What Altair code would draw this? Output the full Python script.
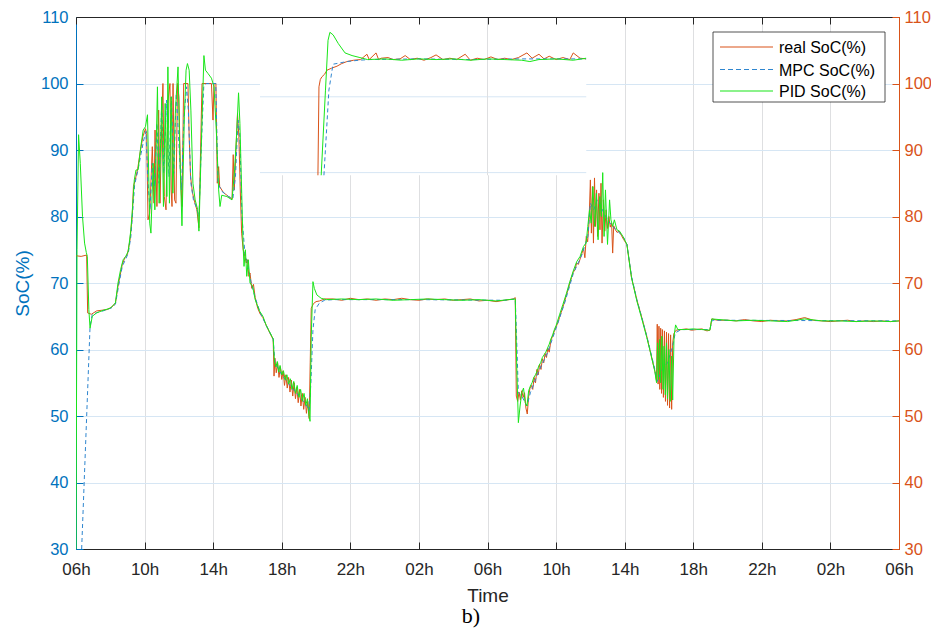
import altair as alt
import pandas as pd

# ---------------- data (hours since 06h of day 1, SoC %) ----------------
real_points = [
    (0.0, 74.1), (0.3, 74.0), (0.62, 74.2), (0.68, 65.5), (0.9, 65.3), (1.2, 65.8), (1.5, 65.9),
    (1.8, 66.0), (2.1, 66.4), (2.3, 67.0), (2.45, 69.5), (2.6, 71.5), (2.7, 72.8), (2.85, 73.8),
    (3.0, 74.3), (3.15, 76.5), (3.28, 80.0), (3.35, 84.5), (3.5, 86.0), (3.6, 87.2), (3.75, 89.8),
    (3.9, 92.0), (4.05, 93.2), (4.12, 92.5), (4.2, 79.5), (4.3, 80.5), (4.45, 90.5), (4.55, 82.0),
    (4.61, 93.0), (4.72, 81.5), (4.82, 96.0), (4.9, 82.0), (5.0, 94.0), (5.07, 100.0), (5.15, 83.0),
    (5.25, 81.0), (5.35, 97.0), (5.48, 100.0), (5.55, 84.0), (5.6, 81.5), (5.66, 100.0), (5.75, 82.5),
    (5.83, 82.0), (5.92, 100.0), (6.0, 98.0), (6.1, 86.0), (6.18, 81.5), (6.28, 100.0), (6.53, 100.0),
    (6.6, 92.0), (6.68, 86.0), (6.8, 83.5), (6.94, 82.0), (7.05, 81.0), (7.17, 78.3), (7.25, 88.0),
    (7.35, 100.0), (7.9, 100.0), (7.99, 94.5), (8.05, 100.0), (8.16, 100.0), (8.24, 85.0), (8.32, 87.5),
    (8.38, 84.5), (8.6, 83.6), (8.9, 83.0), (9.1, 82.6), (9.17, 89.3), (9.23, 84.0), (9.33, 90.0),
    (9.42, 95.5), (9.5, 92.0), (9.58, 84.0), (9.66, 77.5), (9.75, 75.0), (9.85, 74.0), (9.93, 73.0),
    (10.0, 73.5), (10.08, 71.0), (10.15, 71.5), (10.25, 69.2), (10.35, 69.8), (10.45, 67.8),
    (10.6, 66.2), (10.75, 65.3), (10.9, 64.8), (11.1, 63.6), (11.3, 62.5), (11.5, 61.5), (11.55, 56.0),
    (11.6, 58.7), (11.68, 56.5), (11.76, 58.0), (11.84, 55.8), (11.92, 57.4), (12.0, 55.5),
    (12.08, 56.8), (12.16, 54.6), (12.24, 56.2), (12.32, 54.2), (12.4, 55.8), (12.48, 53.6),
    (12.56, 55.4), (12.64, 53.0), (12.72, 55.0), (12.8, 52.6), (12.88, 54.3), (12.96, 52.0),
    (13.04, 54.0), (13.12, 51.5), (13.2, 53.4), (13.28, 51.0), (13.36, 52.8), (13.44, 50.4),
    (13.52, 52.2), (13.6, 49.6), (13.66, 58.0), (13.72, 66.2), (13.85, 66.9), (14.0, 67.2),
    (14.2, 67.3), (14.5, 67.6), (15.0, 67.6), (15.5, 67.4), (16.0, 67.7), (16.5, 67.5), (17.0, 67.6),
    (17.5, 67.4), (18.0, 67.6), (18.5, 67.5), (19.0, 67.7), (19.5, 67.5), (20.0, 67.4), (20.5, 67.6),
    (21.0, 67.5), (21.5, 67.6), (22.0, 67.4), (22.5, 67.5), (23.0, 67.6), (23.5, 67.3), (24.0, 67.4),
    (24.5, 67.2), (25.0, 67.4), (25.5, 67.6), (25.62, 67.8), (25.68, 53.0), (25.76, 52.2),
    (25.84, 53.6), (25.92, 52.4), (26.0, 53.8), (26.08, 52.8), (26.16, 53.5), (26.24, 51.2),
    (26.32, 50.3), (26.4, 53.0), (26.48, 54.2), (26.56, 54.6), (26.64, 54.0), (26.72, 55.8),
    (26.8, 55.0), (26.88, 57.0), (26.96, 56.2), (27.04, 57.8), (27.12, 57.0), (27.2, 58.6),
    (27.28, 58.0), (27.36, 59.4), (27.44, 58.8), (27.52, 60.2), (27.6, 59.6), (27.7, 61.4),
    (27.8, 62.0), (27.9, 62.8), (28.0, 63.4), (28.1, 64.0), (28.2, 64.8), (28.3, 65.6), (28.4, 66.4),
    (28.5, 67.2), (28.6, 68.2), (28.7, 69.0), (28.8, 70.0), (28.9, 70.8), (29.0, 71.6), (29.1, 72.0),
    (29.2, 73.0), (29.3, 72.8), (29.4, 73.6), (29.5, 74.4), (29.6, 75.2), (29.68, 73.8), (29.76, 77.0),
    (29.84, 76.2), (29.92, 79.0), (30.0, 85.5), (30.06, 77.5), (30.12, 84.5), (30.18, 76.0),
    (30.24, 85.8), (30.3, 78.5), (30.36, 84.0), (30.42, 77.0), (30.5, 83.5), (30.56, 78.0),
    (30.62, 85.0), (30.68, 76.0), (30.76, 82.5), (30.84, 77.8), (30.92, 81.0), (31.0, 78.2),
    (31.08, 80.0), (31.16, 78.4), (31.24, 79.0), (31.3, 74.5), (31.36, 78.6), (31.46, 78.0),
    (31.56, 77.6), (31.68, 77.8), (31.8, 77.2), (31.95, 76.5), (32.13, 75.8), (32.4, 70.8),
    (32.71, 67.5), (33.0, 64.8), (33.29, 62.0), (33.5, 59.6), (33.76, 56.8), (33.86, 55.2),
    (33.9, 63.8), (33.95, 54.8), (34.0, 63.5), (34.05, 54.0), (34.1, 63.2), (34.15, 53.4),
    (34.2, 63.0), (34.26, 52.8), (34.32, 62.8), (34.38, 52.2), (34.44, 62.6), (34.5, 51.6),
    (34.56, 62.4), (34.62, 51.2), (34.68, 62.2), (34.74, 51.0), (34.8, 61.0), (34.87, 62.4),
    (35.0, 62.9), (35.3, 63.0), (35.6, 63.1), (35.9, 62.9), (36.2, 63.0), (36.5, 63.1), (36.8, 62.8),
    (36.97, 62.9), (37.08, 64.6), (37.4, 64.4), (38.0, 64.4), (38.5, 64.3), (39.0, 64.5), (39.5, 64.3),
    (40.0, 64.2), (40.5, 64.4), (41.0, 64.3), (41.5, 64.3), (42.0, 64.5), (42.5, 64.8), (43.0, 64.4),
    (43.5, 64.3), (44.0, 64.2), (44.5, 64.3), (45.0, 64.4), (45.5, 64.2), (46.0, 64.3), (46.5, 64.2),
    (47.0, 64.3), (47.5, 64.2), (48.0, 64.3),
]

mpc_points = [
    (0.33, 30.0), (0.82, 63.5), (0.95, 65.3), (1.3, 65.6), (1.7, 65.9), (2.1, 66.3), (2.3, 66.8),
    (2.5, 69.8), (2.7, 72.5), (2.9, 73.6), (3.05, 74.5), (3.2, 77.0), (3.33, 81.5), (3.42, 84.8),
    (3.6, 86.8), (3.8, 89.5), (3.95, 91.5), (4.08, 92.8), (4.2, 85.0), (4.32, 81.0), (4.45, 88.0),
    (4.58, 84.5), (4.72, 94.0), (4.85, 85.0), (5.0, 97.0), (5.12, 86.5), (5.28, 97.5), (5.42, 86.0),
    (5.56, 98.0), (5.7, 86.5), (5.85, 98.5), (6.0, 91.0), (6.15, 84.0), (6.3, 95.0), (6.45, 99.5),
    (6.55, 96.0), (6.7, 85.0), (6.85, 82.5), (7.0, 81.5), (7.17, 80.0), (7.3, 90.0), (7.45, 99.5),
    (7.6, 100.0), (8.15, 100.0), (8.28, 85.0), (8.5, 83.8), (8.9, 83.0), (9.15, 82.7), (9.3, 86.0),
    (9.45, 94.5), (9.55, 92.5), (9.68, 80.0), (9.85, 74.5), (10.0, 73.0), (10.2, 70.2), (10.45, 67.8),
    (10.75, 65.5), (11.1, 63.6), (11.5, 61.6), (11.6, 58.0), (12.0, 56.2), (12.5, 54.5), (13.0, 53.0),
    (13.4, 51.8), (13.6, 50.8), (13.7, 55.0), (13.82, 63.0), (13.95, 66.0), (14.2, 67.0), (14.5, 67.4),
    (15.0, 67.5), (20.0, 67.5), (25.0, 67.4), (25.62, 67.6), (25.72, 60.0), (25.8, 53.5), (26.0, 53.0),
    (26.3, 51.5), (26.5, 53.5), (27.0, 56.8), (27.5, 59.5), (28.0, 63.2), (28.5, 67.0), (29.0, 71.4),
    (29.5, 74.2), (29.85, 77.0), (30.0, 82.0), (30.2, 81.0), (30.4, 82.5), (30.6, 81.5), (30.8, 80.5),
    (31.0, 79.5), (31.3, 78.5), (31.6, 77.8), (31.95, 76.8), (32.13, 75.8), (32.4, 71.0), (32.71, 67.5),
    (33.0, 64.8), (33.29, 62.0), (33.5, 59.8), (33.76, 57.0), (33.9, 55.2), (34.2, 57.0), (34.5, 58.0),
    (34.8, 60.5), (34.95, 62.5), (35.3, 63.0), (36.97, 63.0), (37.1, 64.4), (37.5, 64.4), (48.0, 64.3),
]

pid_points = [
    (0.0, 30.0), (0.06, 75.0), (0.15, 92.3), (0.25, 88.0), (0.38, 80.0), (0.5, 76.0), (0.6, 74.6),
    (0.66, 74.0), (0.75, 66.0), (0.82, 63.2), (0.95, 65.0), (1.2, 65.5), (1.6, 65.9), (2.0, 66.2),
    (2.3, 67.0), (2.45, 70.0), (2.6, 72.0), (2.75, 73.5), (2.9, 74.0), (3.05, 74.8), (3.2, 78.0),
    (3.3, 81.5), (3.4, 85.5), (3.5, 87.0), (3.62, 87.0), (3.78, 90.5), (3.92, 93.0), (4.05, 93.5),
    (4.17, 95.3), (4.3, 79.0), (4.37, 77.5), (4.5, 88.0), (4.6, 81.0), (4.75, 99.5), (4.85, 82.0),
    (5.0, 98.0), (5.1, 81.5), (5.2, 97.0), (5.3, 83.0), (5.36, 102.5), (5.45, 82.0), (5.55, 98.0),
    (5.65, 83.5), (5.8, 96.0), (5.95, 102.5), (6.05, 90.0), (6.18, 78.6), (6.32, 95.0), (6.42, 102.0),
    (6.5, 103.0), (6.6, 102.0), (6.7, 96.0), (6.82, 85.0), (6.95, 82.5), (7.1, 81.0), (7.17, 77.8),
    (7.3, 90.0), (7.46, 104.2), (7.55, 102.0), (7.7, 101.5), (7.9, 100.8), (8.05, 99.5), (8.2, 92.0),
    (8.32, 84.0), (8.4, 81.5), (8.5, 83.2), (8.8, 83.0), (9.1, 82.5), (9.25, 87.0), (9.38, 93.0),
    (9.48, 98.6), (9.56, 94.0), (9.66, 84.0), (9.74, 76.0), (9.8, 72.5), (9.88, 75.0), (9.96, 71.0),
    (10.05, 73.5), (10.15, 70.0), (10.3, 69.5), (10.45, 67.5), (10.7, 65.8), (10.9, 65.0),
    (11.1, 63.6), (11.3, 62.6), (11.5, 61.6), (11.58, 58.0), (11.66, 57.4), (11.74, 58.2),
    (11.82, 56.6), (11.9, 57.6), (12.0, 56.2), (12.1, 56.8), (12.2, 55.4), (12.3, 56.2), (12.4, 54.8),
    (12.5, 55.6), (12.6, 54.0), (12.7, 55.2), (12.8, 53.4), (12.9, 54.6), (13.0, 52.8), (13.1, 54.0),
    (13.2, 52.2), (13.3, 53.4), (13.4, 51.6), (13.5, 52.6), (13.58, 50.2), (13.65, 49.2), (13.72, 62.0),
    (13.82, 70.2), (13.9, 69.2), (14.05, 68.2), (14.3, 67.7), (14.6, 67.5), (15.5, 67.6), (16.5, 67.5),
    (17.5, 67.6), (18.5, 67.4), (19.5, 67.5), (20.5, 67.6), (21.5, 67.5), (22.5, 67.4), (23.5, 67.5),
    (24.5, 67.3), (25.62, 67.6), (25.7, 58.0), (25.8, 49.0), (25.9, 51.5), (26.0, 53.5), (26.1, 54.2),
    (26.2, 52.0), (26.3, 51.5), (26.4, 53.8), (26.5, 54.5), (26.6, 55.0), (26.7, 55.8), (26.8, 56.2),
    (26.9, 56.8), (27.0, 57.6), (27.1, 58.0), (27.2, 58.8), (27.3, 59.2), (27.4, 59.6), (27.5, 60.2),
    (27.6, 60.8), (27.7, 61.6), (27.8, 62.2), (27.9, 63.0), (28.0, 63.6), (28.2, 65.2), (28.4, 66.8),
    (28.6, 68.4), (28.8, 70.2), (29.0, 71.8), (29.2, 73.2), (29.4, 74.0), (29.6, 75.5), (29.75, 76.0),
    (29.85, 78.5), (29.95, 81.0), (30.05, 79.0), (30.15, 84.5), (30.25, 78.5), (30.35, 83.5),
    (30.45, 76.5), (30.55, 83.0), (30.64, 80.0), (30.72, 86.6), (30.8, 77.0), (30.88, 84.0),
    (31.0, 75.8), (31.12, 82.5), (31.2, 79.5), (31.3, 78.5), (31.4, 79.5), (31.55, 78.0), (31.7, 77.8),
    (31.9, 77.0), (32.13, 75.8), (32.4, 70.8), (32.71, 67.3), (33.0, 64.6), (33.29, 61.8), (33.5, 59.6),
    (33.76, 56.7), (33.86, 55.0), (33.92, 61.0), (33.97, 55.5), (34.04, 61.5), (34.1, 55.0),
    (34.17, 62.0), (34.24, 54.0), (34.3, 60.5), (34.37, 53.2), (34.44, 61.0), (34.5, 52.6),
    (34.58, 60.0), (34.66, 52.2), (34.74, 59.0), (34.8, 52.4), (34.88, 62.0), (34.97, 63.7),
    (35.1, 63.0), (35.5, 63.0), (36.0, 63.1), (36.5, 63.0), (36.97, 62.9), (37.08, 64.6), (37.5, 64.5),
    (38.5, 64.3), (39.5, 64.4), (40.5, 64.3), (41.5, 64.2), (42.5, 64.6), (43.5, 64.3), (44.5, 64.3),
    (45.5, 64.2), (46.5, 64.3), (47.5, 64.2), (48.0, 64.3),
]

# pasted zoom inset near the top of the figure (in the main axis units)
inset_hours = [10.73, 29.76]
inset_soc = [86.2, 110.0]
inset_grid_soc = [98.0, 86.6]
inset_grid_hours = [24.0]

inset_real_points = [
    (14.11, 86.2), (14.17, 99.5), (14.25, 100.6), (14.34, 101.0), (14.5, 101.4), (14.64, 102.0),
    (14.9, 102.3), (15.22, 102.6), (15.5, 103.0), (15.8, 103.3), (16.2, 103.5), (16.6, 103.6),
    (16.97, 104.4), (17.1, 103.6), (17.5, 104.6), (17.65, 103.6), (17.8, 103.8), (18.2, 103.9),
    (18.5, 103.6), (18.9, 103.7), (19.2, 104.2), (19.5, 103.6), (19.9, 103.8), (20.3, 103.5),
    (20.7, 103.9), (21.0, 104.3), (21.4, 103.6), (21.8, 103.8), (22.2, 103.6), (22.7, 104.4),
    (23.0, 103.5), (23.4, 103.8), (23.8, 103.6), (24.2, 104.0), (24.6, 103.6), (25.0, 103.8),
    (25.4, 103.6), (25.8, 103.9), (26.3, 104.6), (26.6, 103.8), (27.0, 104.4), (27.3, 103.7),
    (27.6, 104.1), (28.0, 103.6), (28.4, 103.9), (28.8, 103.6), (29.0, 104.6), (29.4, 103.8),
    (29.75, 103.7),
]
inset_mpc_points = [
    (14.46, 86.2), (14.75, 99.0), (14.99, 102.9), (15.4, 103.1), (15.8, 103.3), (16.5, 103.5),
    (17.14, 103.6), (20.0, 103.7), (23.0, 103.6), (26.0, 103.7), (29.75, 103.7),
]
inset_pid_points = [
    (14.3, 86.2), (14.55, 99.0), (14.7, 106.5), (14.81, 107.7), (15.0, 107.3), (15.3, 106.0),
    (15.69, 104.6), (16.1, 104.2), (16.56, 103.9), (17.0, 103.6), (18.0, 103.7), (19.0, 103.5),
    (20.0, 103.7), (21.0, 103.6), (22.0, 103.7), (23.0, 103.5), (24.0, 103.7), (25.0, 103.6),
    (26.0, 103.5), (26.47, 103.3), (27.0, 103.6), (28.0, 103.7), (29.0, 103.5), (29.75, 103.8),
]

tick_hours = list(range(0, 49, 4))
tick_labels = ["06h", "10h", "14h", "18h", "22h", "02h", "06h", "10h", "14h", "18h", "22h", "02h", "06h"]
soc_ticks = list(range(30, 111, 10))
series_names = ["real SoC(%)", "MPC SoC(%)", "PID SoC(%)"]
series_colors = ["#D95319", "#2F86CF", "#19E619"]
caption = ["b)"]

# ---------------- styling ----------------
W, H = 823, 532
FONT = "Liberation Sans"
AX = "#262626"
BLUE = "#0072BD"
ORANGE = "#D95319"
GRID_X = "#DEDFE1"
GRID_Y = "#D6E6F4"

xs = alt.Scale(domain=[0, 48], nice=False, zero=False)
ys = alt.Scale(domain=[30, 110], nice=False, zero=False)
label_expr = "[" + ",".join("'%s'" % s for s in tick_labels) + "][round(datum.value/4)]"


def frame(points):
    return pd.DataFrame(points, columns=["hour", "soc"])


ax_x_main = alt.Axis(orient="bottom", values=tick_hours, labelExpr=label_expr, grid=True,
                     gridColor=GRID_X, gridWidth=1, ticks=False, domain=True, domainColor=AX,
                     domainWidth=1, labelColor=AX, labelFont=FONT, labelFontSize=17, labelPadding=12,
                     labelFlush=False, labelOverlap=False, title="Time", titleFont=FONT,
                     titleFontSize=19, titleFontWeight="normal", titleColor=AX, titlePadding=9)
ax_y_main = alt.Axis(orient="left", values=soc_ticks, grid=True, gridColor=GRID_Y, gridWidth=1,
                     ticks=False, domain=True, domainColor=BLUE, domainWidth=1, labelColor=BLUE,
                     labelFont=FONT, labelFontSize=16.5, labelPadding=8, labelFlush=False,
                     labelOverlap=False, title="SoC(%)", titleFont=FONT, titleFontSize=19,
                     titleFontWeight="normal", titleColor=BLUE, titlePadding=8)
ax_x_bottom_ticks = alt.Axis(orient="bottom", offset=-7, values=tick_hours, ticks=True, tickSize=7,
                             tickColor=AX, tickWidth=1, labels=False, domain=False, grid=False, title=None)
ax_y_left_ticks = alt.Axis(orient="left", offset=-7, values=soc_ticks, ticks=True, tickSize=7,
                           tickColor=BLUE, tickWidth=1, labels=False, domain=False, grid=False, title=None)
ax_x_top_ticks = alt.Axis(orient="top", offset=-7, values=tick_hours, ticks=True, tickSize=7,
                          tickColor=AX, tickWidth=1, labels=False, domain=False, grid=False,
                          title=None, zindex=1)
ax_y_right_ticks = alt.Axis(orient="right", offset=-7, values=soc_ticks, ticks=True, tickSize=7,
                            tickColor=ORANGE, tickWidth=1, labels=False, domain=False, grid=False,
                            title=None, zindex=1)
ax_x_top_line = alt.Axis(orient="top", values=tick_hours, ticks=False, labels=False, domain=True,
                         domainColor=AX, domainWidth=1, grid=False, title=None, zindex=1)
ax_y_right = alt.Axis(orient="right", values=soc_ticks, ticks=False, labels=True, domain=True,
                      domainColor=ORANGE, domainWidth=1, labelColor=ORANGE, labelFont=FONT,
                      labelFontSize=16.5, labelPadding=5, labelFlush=False, labelOverlap=False,
                      grid=False, title=None, zindex=1)


def series(points, color, x_axis, y_axis, dash=None):
    kw = dict(color=color, strokeWidth=1, clip=True, interpolate="linear")
    if dash:
        kw["strokeDash"] = dash
    return alt.Chart(frame(points)).mark_line(**kw).encode(
        x=alt.X("hour:Q", scale=xs, axis=x_axis),
        y=alt.Y("soc:Q", scale=ys, axis=y_axis),
    )


real_line = series(real_points, series_colors[0], ax_x_main, ax_y_main)
mpc_line = series(mpc_points, series_colors[1], ax_x_bottom_ticks, ax_y_left_ticks, [4, 3])
pid_line = series(pid_points, series_colors[2], ax_x_top_ticks, ax_y_right_ticks)

inset_bg = alt.Chart(pd.DataFrame({"h0": [inset_hours[0]], "h1": [inset_hours[1]],
                                   "s0": [inset_soc[0]], "s1": [inset_soc[1]]})).mark_rect(
    fill="white", strokeWidth=0).encode(
    x=alt.X("h0:Q", scale=xs, axis=ax_x_top_line),
    x2="h1:Q",
    y=alt.Y("s0:Q", scale=ys, axis=ax_y_right),
    y2="s1:Q",
)

inset_hgrid = alt.Chart(pd.DataFrame({"soc": inset_grid_soc, "h0": [inset_hours[0]] * 2,
                                      "h1": [inset_hours[1]] * 2})).mark_rule(
    color=GRID_Y, strokeWidth=1).encode(
    x=alt.X("h0:Q", scale=xs, axis=None), x2="h1:Q",
    y=alt.Y("soc:Q", scale=ys, axis=None),
)
inset_vgrid = alt.Chart(pd.DataFrame({"hour": inset_grid_hours, "s0": [inset_soc[0]],
                                      "s1": [inset_soc[1]]})).mark_rule(
    color=GRID_X, strokeWidth=1).encode(
    x=alt.X("hour:Q", scale=xs, axis=None),
    y=alt.Y("s0:Q", scale=ys, axis=None), y2="s1:Q",
)


def inset_series(points, color, dash=None):
    kw = dict(color=color, strokeWidth=1, clip=True)
    if dash:
        kw["strokeDash"] = dash
    return alt.Chart(frame(points)).mark_line(**kw).encode(
        x=alt.X("hour:Q", scale=xs, axis=None),
        y=alt.Y("soc:Q", scale=ys, axis=None),
    )


inset_real = inset_series(inset_real_points, series_colors[0])
inset_mpc = inset_series(inset_mpc_points, series_colors[1], [4, 3])
inset_pid = inset_series(inset_pid_points, series_colors[2])

# ---------------- legend (drawn box, matlab style) ----------------
legend_box = alt.Chart(pd.DataFrame({"k": [0]})).mark_rect(
    fill="white", stroke=AX, strokeWidth=0.8).encode(
    x=alt.value(637), x2=alt.value(809), y=alt.value(15), y2=alt.value(85))
legend_rows = [30, 52.5, 74]
legend_layers = []
for i, name in enumerate(series_names):
    rk = dict(color=series_colors[i], strokeWidth=1.2)
    if i == 1:
        rk["strokeDash"] = [5, 3]
    legend_layers.append(
        alt.Chart(pd.DataFrame({"name": [name]})).mark_rule(**rk).encode(
            x=alt.value(644), x2=alt.value(697), y=alt.value(legend_rows[i])))
    legend_layers.append(
        alt.Chart(pd.DataFrame({"name": [name]})).mark_text(
            align="left", baseline="middle", font=FONT, fontSize=16, color="#000000").encode(
            x=alt.value(703), y=alt.value(legend_rows[i] + 1), text="name:N"))

caption_text = alt.Chart(pd.DataFrame({"c": caption})).mark_text(
    align="center", baseline="alphabetic", font="Liberation Serif", fontSize=22,
    color="#000000").encode(x=alt.value(395), y=alt.value(606), text="c:N")

chart = alt.layer(
    real_line, mpc_line, pid_line,
    inset_bg, inset_hgrid, inset_vgrid, inset_real, inset_mpc, inset_pid,
    legend_box, *legend_layers, caption_text,
).resolve_scale(x="shared", y="shared").resolve_axis(x="independent", y="independent").properties(
    width=W, height=H,
    padding={"left": 68, "top": 9, "right": 32, "bottom": 80},
    autosize=alt.AutoSizeParams(type="none"),
    background="white",
).configure_view(strokeWidth=0)

chart.save("out.html", embed_options={"renderer": "svg", "actions": False})
